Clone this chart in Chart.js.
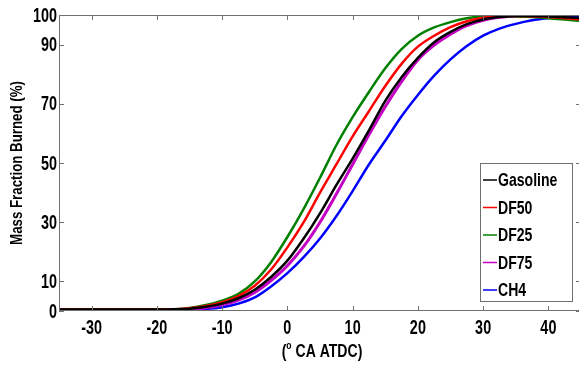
<!DOCTYPE html>
<html>
<head>
<meta charset="utf-8">
<script src="https://cdn.jsdelivr.net/npm/chart.js@4"></script>
<style>
  html, body { margin: 0; padding: 0; background: #fff; overflow: hidden; }
</style>
</head>
<body>
<canvas id="mfbChart" width="582" height="366"></canvas>
<script>
// crank angle (deg ATDC) and mass fraction burned (%) for each fuel
const crankAngle = [-35, -30, -25, -20, -17.5, -15, -12.5, -10, -7.5, -5, -2.5, 0, 2.5, 5, 7.5, 10,
  12.5, 15, 17.5, 20, 22.5, 25, 27.5, 30, 32.5, 35, 37.5, 40, 42.5, 45];
const gasoline = [0.5, 0.5, 0.5, 0.5, 0.6, 0.8, 1.4, 2.5, 4.3, 7.2, 11.5, 17, 24.5, 33, 42.5, 51.5,
  61, 71, 79, 85.5, 90.8, 94.3, 96.9, 98.5, 99.3, 99.7, 99.7, 99.5, 99.2, 99];
const df50 = [0.5, 0.5, 0.5, 0.5, 0.6, 0.9, 1.7, 3.0, 5.0, 8.5, 14, 21.5, 30, 40, 49.5, 59,
  67.5, 76, 83.5, 89.3, 93, 95.9, 97.9, 99.1, 99.6, 99.7, 99.6, 99.3, 98.9, 98.5];
const df25 = [0.5, 0.5, 0.5, 0.5, 0.6, 1.0, 2.0, 3.5, 5.8, 10, 16.5, 25, 34.5, 45, 56, 65.5,
  74, 82, 88.5, 93, 95.8, 97.6, 98.9, 99.5, 99.7, 99.6, 99.3, 98.9, 98.5, 98];
const df75 = [0.4, 0.4, 0.4, 0.4, 0.5, 0.6, 1.1, 2.1, 3.7, 6.3, 10.3, 15.3, 21.8, 30, 39.5, 49.5,
  59.5, 69, 77.5, 84.8, 89.8, 93.5, 96.4, 98.2, 99.2, 99.6, 99.6, 99.4, 99.1, 98.7];
const ch4 = [0.3, 0.3, 0.3, 0.3, 0.3, 0.4, 0.7, 1.3, 2.5, 4.6, 8.3, 12.8, 18.2, 24.5, 32, 40.5,
  49.5, 57.5, 65.8, 73, 79.5, 85, 89.5, 93, 95.4, 97, 98.2, 99, 99.3, 99.4];

const xTicks = [-30, -20, -10, 0, 10, 20, 30, 40];
const yTicks = [0, 10, 30, 50, 70, 90, 100];

const FONT = "'Liberation Sans', Arial, sans-serif";

function toPoints(ys) {
  return crankAngle.map((x, i) => ({ x: x, y: ys[i] }));
}

function series(label, ys, color, width) {
  return {
    label: label,
    data: toPoints(ys),
    borderColor: color,
    backgroundColor: color,
    borderWidth: width,
    pointRadius: 0,
    showLine: true,
    fill: false,
    cubicInterpolationMode: 'monotone'
  };
}

// bold text squeezed sideways to get a narrow face
function narrowText(ctx, text, x, y, size, align, sx) {
  ctx.save();
  ctx.translate(x, y);
  ctx.scale(sx, 1);
  ctx.font = 'bold ' + size + 'px ' + FONT;
  ctx.textAlign = align;
  ctx.textBaseline = 'middle';
  ctx.fillStyle = '#000';
  ctx.fillText(text, 0, 0);
  ctx.restore();
}

// box round the plot, with short tick marks pointing inward on every side
const framePlugin = {
  id: 'frame',
  afterDatasetsDraw(chart) {
    const { ctx, chartArea: a, scales } = chart;
    const len = 5;
    ctx.save();
    ctx.strokeStyle = '#707070';
    ctx.lineWidth = 1;
    ctx.strokeRect(a.left + 0.5, a.top + 0.5, a.right - a.left - 1, a.bottom - a.top - 1);
    ctx.beginPath();
    xTicks.forEach(v => {
      const px = Math.round(scales.x.getPixelForValue(v)) + 0.5;
      ctx.moveTo(px, a.bottom); ctx.lineTo(px, a.bottom - len);
      ctx.moveTo(px, a.top); ctx.lineTo(px, a.top + len);
    });
    yTicks.forEach(v => {
      const py = Math.round(scales.y.getPixelForValue(v)) + 0.5;
      ctx.moveTo(a.left, py); ctx.lineTo(a.left + len, py);
      ctx.moveTo(a.right, py); ctx.lineTo(a.right - len, py);
    });
    ctx.stroke();
    ctx.restore();
  }
};

// tick labels and axis titles
const labelPlugin = {
  id: 'labels',
  afterDraw(chart) {
    const { ctx, scales } = chart;
    xTicks.forEach(v => {
      narrowText(ctx, String(v), scales.x.getPixelForValue(v), 328, 20, 'center', 0.72);
    });
    yTicks.forEach(v => {
      narrowText(ctx, String(v), 57, scales.y.getPixelForValue(v) + 1, 20, 'right', 0.72);
    });

    ctx.save();
    ctx.translate(18, 163);
    ctx.rotate(-Math.PI / 2);
    narrowText(ctx, 'Mass Fraction Burned (%)', 0, 0, 16, 'center', 0.83);
    ctx.restore();

    // "(° CA ATDC)" with a raised small o
    const sx = 0.78;
    const parts = [['(', 18, 0], ['o', 11, -6], [' CA ATDC)', 18, 0]];
    let total = 0;
    parts.forEach(p => {
      ctx.font = 'bold ' + p[1] + 'px ' + FONT;
      total += ctx.measureText(p[0]).width * sx;
    });
    let x = 322 - total / 2;
    parts.forEach(p => {
      narrowText(ctx, p[0], x, 352 + p[2], p[1], 'left', sx);
      ctx.font = 'bold ' + p[1] + 'px ' + FONT;
      x += ctx.measureText(p[0]).width * sx;
    });
  }
};

// legend box inside the plot, lower right
const legendPlugin = {
  id: 'boxLegend',
  afterDraw(chart) {
    const { ctx } = chart;
    const box = { left: 480, top: 163, right: 573, bottom: 302 };
    ctx.save();
    ctx.fillStyle = '#fff';
    ctx.fillRect(box.left, box.top, box.right - box.left, box.bottom - box.top);
    ctx.strokeStyle = '#707070';
    ctx.lineWidth = 1;
    ctx.strokeRect(box.left + 0.5, box.top + 0.5, box.right - box.left - 1, box.bottom - box.top - 1);
    chart.data.datasets.forEach((ds, i) => {
      const cy = 180 + i * 27.5;
      ctx.strokeStyle = ds.borderColor;
      ctx.lineWidth = 1.5;
      ctx.beginPath();
      ctx.moveTo(483, cy); ctx.lineTo(497, cy);
      ctx.stroke();
      narrowText(ctx, ds.label, 498, cy + 1, 19, 'left', 0.74);
    });
    ctx.restore();
  }
};

new Chart(document.getElementById('mfbChart'), {
  type: 'scatter',
  data: {
    datasets: [
      series('Gasoline', gasoline, '#000000', 2.5),
      series('DF50', df50, '#ff0000', 2.5),
      series('DF25', df25, '#008000', 2.5),
      series('DF75', df75, '#c400c4', 3),
      series('CH4', ch4, '#0000ff', 2.5)
    ]
  },
  options: {
    responsive: false,
    animation: false,
    layout: { padding: { top: 15, right: 1, left: 0, bottom: 0 } },
    plugins: { legend: { display: false }, tooltip: { enabled: false } },
    scales: {
      x: {
        type: 'linear',
        min: -35,
        max: 45,
        grid: { display: false, drawTicks: false },
        border: { display: false },
        ticks: { display: false },
        afterFit: s => { s.height = 55; }
      },
      y: {
        type: 'linear',
        min: 0,
        max: 100,
        grid: { display: false, drawTicks: false },
        border: { display: false },
        ticks: { display: false },
        afterFit: s => { s.width = 59; }
      }
    }
  },
  plugins: [framePlugin, labelPlugin, legendPlugin]
});
</script>
</body>
</html>
